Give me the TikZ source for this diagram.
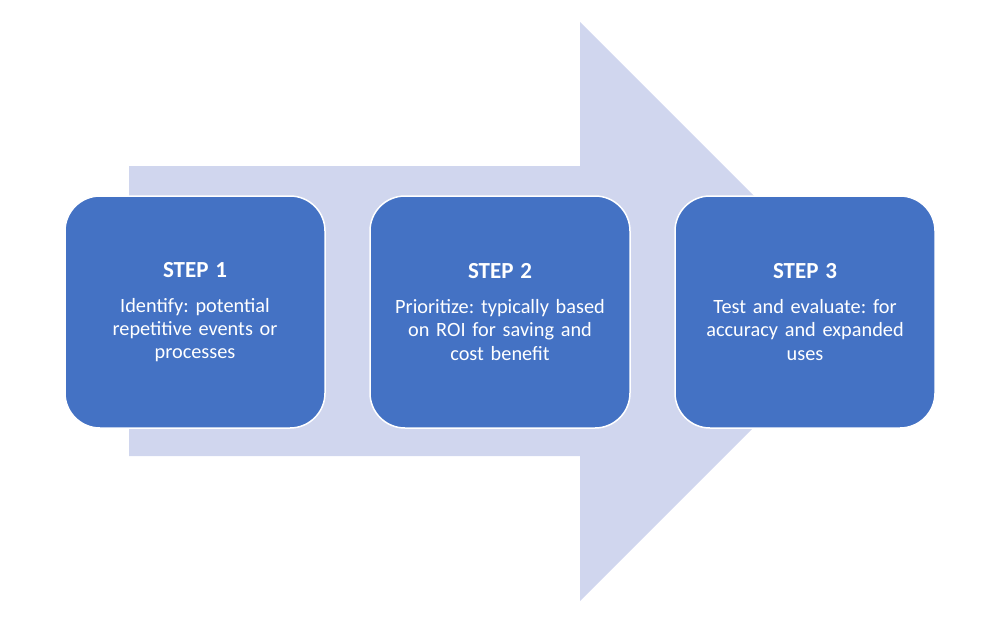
\documentclass[tikz,border=0pt]{standalone}
\usepackage{fontspec}
\setmainfont{Carlito}
\definecolor{boxblue}{HTML}{4472C4}
\definecolor{arrowblue}{HTML}{D0D6EE}
\newcommand{\steptitlefont}{\fontsize{23}{28}\selectfont\bfseries}

\begin{document}
\frenchspacing
\begin{tikzpicture}[
    x=1pt, y=-1pt,
    stepbox/.style={rectangle, rounded corners=35pt, fill=boxblue, draw=white,
        line width=1.5pt, minimum width=260pt, minimum height=232pt,
        text=white, text width=240pt, align=center,
        font=\fontsize{20.3}{23.3}\selectfont}
]
\useasboundingbox (0,0) rectangle (992,642);

% Seta de fundo
\fill[arrowblue] (129,166) -- (580,166) -- (580,22) -- (869.5,311.5)
    -- (580,601) -- (580,456) -- (129,456) -- cycle;

% Caixas dos passos
\node[stepbox] (s1) at (195,312) {{\steptitlefont STEP 1}\\[11.7pt]
    Identify: potential\\ repetitive events or\\ processes};
\node[stepbox] (s2) at (500,312) {{\steptitlefont STEP 2}\\[11.7pt]
    Prioritize: typically based\\ on ROI for saving and\\ cost benefit};
\node[stepbox] (s3) at (805,312) {{\steptitlefont STEP 3}\\[11.7pt]
    Test and evaluate: for\\ accuracy and expanded\\ uses};

\end{tikzpicture}
\end{document}
